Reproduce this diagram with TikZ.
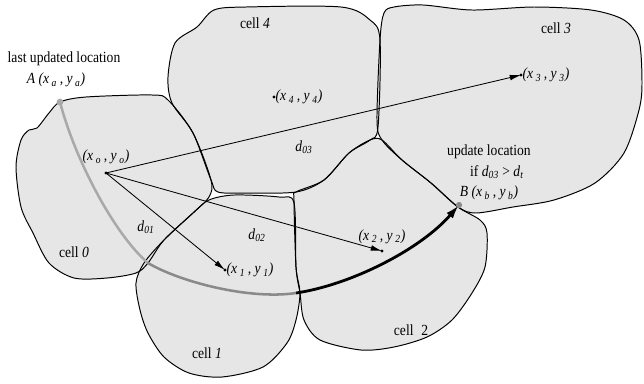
\documentclass[tikz,border=0pt]{standalone}
\usepackage{fontspec}
\setmainfont{Liberation Serif}[FakeStretch=0.88]
\usetikzlibrary{positioning,arrows.meta}
\definecolor{cellgray}{HTML}{E6E6E6}
\definecolor{tracklight}{HTML}{A9A9A9}
\definecolor{trackmid}{HTML}{8A8A8A}
\newcommand{\xysub}[1]{\textit{(x\,\textsubscript{#1}\,, y\,\textsubscript{#1})}}
\newcommand{\dsub}[1]{\textit{d}\textsubscript{\textit{#1}}}
% cell outlines, pixel units
\newcommand{\cellzero}{plot[smooth cycle,tension=0.5] coordinates {(60,102) (86,97) (152,95) (168,100) (193,133) (211,180) (209,197) (193,213) (164,240) (148,263) (136,273) (107,278) (74,278) (49,263) (33,233) (21,207) (16,167) (21,140) (29,130) (37,128) (49,113)}}
\newcommand{\cellone}{plot[smooth cycle,tension=0.5] coordinates {(193,213) (209,200) (234,195) (279,197) (294,203) (296,267) (300,293) (296,320) (287,343) (263,367) (222,377) (189,373) (164,357) (148,333) (140,310) (136,283) (144,263) (164,240)}}
\newcommand{\celltwo}{plot[smooth cycle,tension=0.5] coordinates {(296,192) (324,180) (349,153) (370,140) (382,140) (402,160) (431,183) (458,207) (480,220) (487,233) (485,267) (472,293) (452,320) (427,337) (394,347) (361,350) (320,340) (304,320) (300,293) (296,267) (294,200)}}
\newcommand{\cellthree}{plot[smooth cycle,tension=0.5] coordinates {(384,13) (394,7) (423,5) (472,10) (534,7) (591,10) (624,20) (639,40) (642,83) (639,110) (624,153) (595,183) (554,200) (513,207) (476,213) (458,207) (431,183) (402,160) (382,140) (377,120) (380,40)}}
\newcommand{\cellfour}{plot[smooth cycle,tension=0.5] coordinates {(197,27) (214,10) (246,7) (341,7) (370,20) (380,40) (378,127) (370,140) (349,153) (324,180) (296,192) (246,193) (218,192) (211,180) (193,133) (172,103) (168,77) (175,43)}}
\tikzset{
    cellfill/.style={fill=cellgray},
    celledge/.style={draw=black,line width=0.7pt},
    lbl/.style={font=\fontsize{11}{13}\selectfont,inner sep=1pt},
    dot/.style={fill=black},
    vec/.style={draw,line width=0.6pt,-{Latex[length=8pt,width=4pt]}},
    track/.style={line width=1.8pt},
}

\begin{document}
\begin{tikzpicture}[x=0.025cm,y=-0.025cm]
    \useasboundingbox (0,0) rectangle (644,383);

    \fill[cellfill] \cellzero;
    \fill[cellfill] \cellone;
    \fill[cellfill] \celltwo;
    \fill[cellfill] \cellthree;
    \fill[cellfill] \cellfour;
    \draw[celledge] \cellzero;
    \draw[celledge] \cellone;
    \draw[celledge] \celltwo;
    \draw[celledge] \cellthree;
    \draw[celledge] \cellfour;

    \node[lbl] (c0) at (74,252) {cell \textit{0}};
    \node[lbl] (c1) at (207,353) {cell \textit{1}};
    \node[lbl] (c2) at (411,330) {cell\; 2};
    \node[lbl] (c3) at (556,28) {cell \textit{3}};
    \node[lbl] (c4) at (255,23) {cell \textit{4}};

    \coordinate (A) at (60,102);
    \coordinate (B) at (459,205);
    \coordinate (xo) at (106,173);
    \coordinate (x1) at (225,270);
    \coordinate (x2) at (382,251);
    \coordinate (x3) at (521,75);
    \coordinate (x4) at (274,97);
    \coordinate (bend) at (148,263);
    \coordinate (turn) at (296,293);

    \path[vec] (xo) -- (x1);
    \path[vec] (xo) -- (x2);
    \path[vec] (xo) -- (x3);

    \draw[track,tracklight] (A) .. controls (75,160) and (115,235) .. (bend);
    \draw[track,trackmid] (bend) .. controls (180,282) and (250,300) .. (turn);
    \draw[track,black,line width=2pt,-{Latex[length=10pt,width=6pt]}] (turn) .. controls (350,285) and (420,250) .. (B);

    \foreach \p in {xo,x1,x2,x3,x4}
        \fill[dot] (\p) circle (1.2pt);
    \fill[tracklight] (A) circle (2.4pt);
    \fill[trackmid] (B) circle (2.2pt);

    \node[lbl,above=5pt of xo] (xolab) {\xysub{o}};
    \node[lbl,right=0pt of x1] (x1lab) {\xysub{1}};
    \node[lbl,above=4pt of x2] (x2lab) {\xysub{2}};
    \node[lbl,right=0pt of x3] (x3lab) {\xysub{3}};
    \node[lbl,right=0pt of x4] (x4lab) {\xysub{4}};

    \node[lbl] (lastlab) at (64,59) {last updated location};
    \node[lbl] (Alab) at (56,80) {\textit{A} \xysub{a}};
    \node[lbl] (updlab) at (489,152) {update location};
    \node[lbl] (iflab) at (497,172) {if \dsub{03} > \dsub{t}};
    \node[lbl] (Blab) at (489,193) {\textit{B} \xysub{b}};

    \node[lbl] (d01) at (146,227) {\dsub{01}};
    \node[lbl] (d02) at (257,235) {\dsub{02}};
    \node[lbl] (d03) at (304,147) {\dsub{03}};
\end{tikzpicture}
\end{document}
